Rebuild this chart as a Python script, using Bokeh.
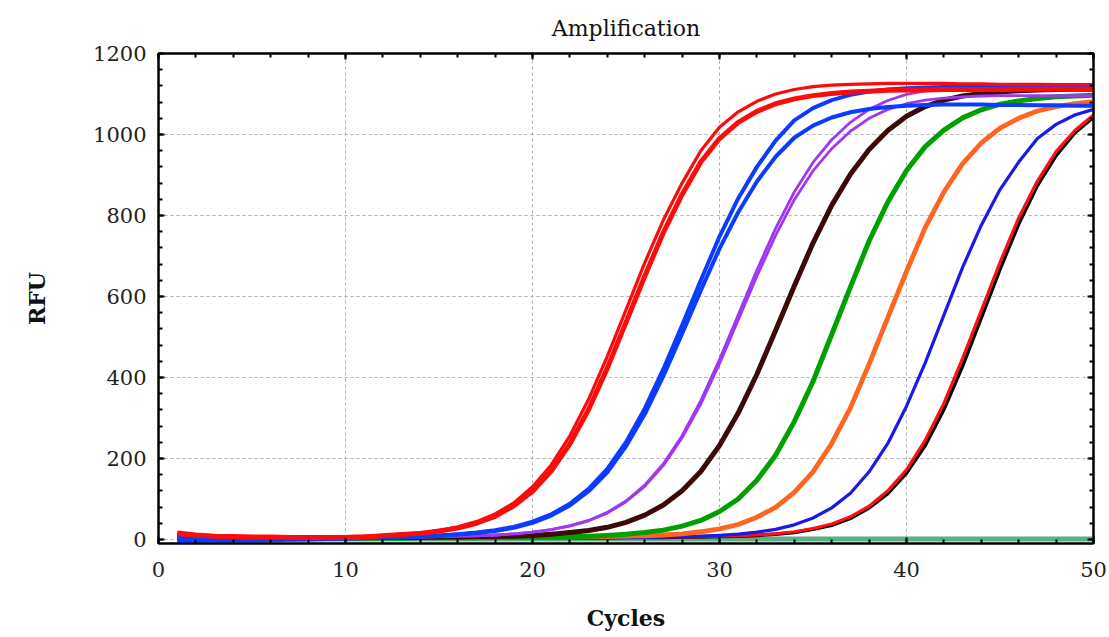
from bokeh.plotting import figure
from bokeh.models import LinearAxis, SingleIntervalTicker, Range1d, CustomJSTickFormatter
from bokeh.embed import file_html
from bokeh.resources import INLINE

# ---- data (RFU per cycle) ----
cycles = [1, 2, 3, 4, 5, 6, 7, 8, 9, 10, 11, 12, 13, 14, 15, 16, 17, 18, 19, 20,
          21, 22, 23, 24, 25, 26, 27, 28, 29, 30, 31, 32, 33, 34, 35, 36, 37, 38, 39, 40,
          41, 42, 43, 44, 45, 46, 47, 48, 49, 50]

red_a = [16, 11, 8, 7, 6, 6, 5, 5, 5, 5, 6, 9, 12, 15, 21, 28, 40, 57, 83, 119,
         169, 236, 321, 423, 536, 650, 758, 852, 932, 990, 1030, 1057, 1076, 1088, 1096, 1101, 1105, 1107, 1109, 1110,
         1110, 1111, 1111, 1111, 1111, 1112, 1112, 1112, 1112, 1112]
red_b = [12, 9, 7, 6, 6, 5, 5, 5, 6, 7, 8, 10, 13, 16, 22, 31, 44, 63, 90, 130,
         184, 256, 346, 452, 567, 683, 789, 880, 960, 1018, 1056, 1082, 1100, 1111, 1118, 1122, 1124, 1125, 1126, 1126,
         1126, 1126, 1125, 1125, 1124, 1124, 1124, 1123, 1123, 1123]
blue_a = [4, 4, 4, 4, 4, 4, 5, 5, 5, 5, 5, 6, 7, 8, 10, 13, 17, 23, 31, 44,
          62, 88, 125, 174, 240, 323, 421, 529, 640, 748, 842, 920, 985, 1035, 1065, 1085, 1098, 1106, 1111, 1114,
          1116, 1117, 1118, 1118, 1118, 1118, 1118, 1118, 1118, 1118]
blue_b = [-4, -4, -3, -3, -3, -2, -1, 0, 1, 2, 3, 4, 5, 7, 9, 12, 16, 21, 29, 41,
          59, 84, 119, 166, 230, 309, 404, 508, 615, 718, 808, 884, 945, 992, 1022, 1042, 1055, 1063, 1068, 1071,
          1073, 1074, 1074, 1074, 1073, 1073, 1072, 1072, 1071, 1071]
purple_a = [6, 6, 5, 5, 5, 5, 5, 5, 5, 5, 5, 5, 6, 6, 7, 8, 9, 11, 14, 18,
            24, 34, 47, 67, 95, 134, 187, 256, 343, 444, 554, 665, 768, 858, 931, 987, 1030, 1062, 1084, 1099,
            1108, 1114, 1118, 1120, 1121, 1122, 1122, 1122, 1122, 1122]
purple_b = [5, 5, 5, 5, 5, 5, 5, 5, 5, 5, 5, 5, 6, 6, 7, 8, 9, 11, 14, 18,
            24, 33, 46, 65, 93, 131, 183, 251, 335, 434, 542, 650, 751, 839, 910, 965, 1008, 1040, 1062, 1076,
            1085, 1090, 1093, 1095, 1096, 1096, 1096, 1096, 1096, 1096]
brown = [5, 5, 5, 5, 5, 5, 5, 5, 5, 5, 5, 5, 5, 5, 6, 6, 7, 7, 8, 10,
         13, 17, 22, 30, 42, 60, 85, 120, 168, 232, 312, 408, 516, 626, 732, 825, 902, 963, 1010, 1045,
         1069, 1085, 1095, 1101, 1105, 1108, 1110, 1111, 1112, 1112]
green = [3, 3, 3, 3, 3, 3, 3, 3, 3, 3, 3, 3, 3, 4, 4, 4, 4, 5, 5, 6,
         6, 7, 8, 10, 13, 17, 23, 33, 47, 69, 100, 146, 208, 291, 390, 506, 623, 737, 833, 911,
         970, 1011, 1041, 1061, 1075, 1083, 1089, 1093, 1095, 1097]
orange = [5, 5, 5, 5, 5, 5, 5, 5, 5, 5, 5, 5, 5, 5, 5, 5, 5, 5, 5, 6,
          6, 6, 7, 7, 8, 9, 11, 14, 19, 26, 37, 55, 79, 116, 167, 237, 325, 433, 548, 662,
          770, 858, 928, 979, 1016, 1040, 1058, 1069, 1076, 1081]
blue_c = [3, 3, 3, 3, 3, 3, 3, 3, 3, 3, 3, 3, 3, 3, 3, 3, 3, 3, 3, 3,
          3, 4, 4, 4, 5, 5, 6, 7, 8, 10, 13, 18, 25, 36, 53, 78, 114, 167, 237, 329,
          436, 554, 672, 776, 864, 932, 990, 1025, 1048, 1062]
red_c = [5, 5, 5, 5, 5, 5, 5, 5, 5, 5, 5, 5, 5, 5, 5, 5, 5, 5, 5, 5,
         5, 5, 5, 5, 5, 6, 6, 7, 7, 8, 9, 11, 14, 19, 27, 38, 56, 82, 120, 172,
         245, 336, 447, 565, 684, 794, 885, 958, 1010, 1048]
black = [4, 4, 4, 4, 4, 4, 4, 4, 4, 4, 4, 4, 4, 4, 4, 4, 4, 4, 4, 4,
         4, 4, 4, 4, 5, 5, 5, 6, 6, 7, 8, 10, 13, 17, 25, 35, 52, 78, 113, 164,
         232, 321, 428, 547, 667, 779, 874, 948, 1004, 1043]
ntc = [1, 1, 1, 1, 1, 1, 1, 1, 1, 1, 1, 1, 1, 1, 1, 1, 1, 1, 1, 1,
       1, 1, 1, 1, 1, 1, 1, 1, 1, 1, 1, 1, 1, 1, 1, 1, 1, 1, 1, 1,
       1, 1, 1, 1, 1, 1, 1, 1, 1, 1]

x_ticks_interval = 10
y_ticks_interval = 200

FONT = "DejaVu Serif"

p = figure(width=1108, height=637, x_range=Range1d(0, 50), y_range=Range1d(-10, 1200),
           output_backend="svg", toolbar_location=None,
           min_border_left=158, min_border_right=15, min_border_top=53, min_border_bottom=94,
           title="Amplification", background_fill_color="white", border_fill_color="white")

p.title.align = "center"
p.title.text_font = FONT
p.title.text_font_size = "22px"
p.title.text_font_style = "normal"
p.title.text_color = "#111111"
p.title.standoff = 25

p.outline_line_color = "black"
p.outline_line_width = 2
p.outline_line_alpha = 1

p.xaxis.ticker = SingleIntervalTicker(interval=x_ticks_interval, num_minor_ticks=5)
p.yaxis.ticker = SingleIntervalTicker(interval=y_ticks_interval, num_minor_ticks=5)

for ax in (p.xaxis, p.yaxis):
    ax.axis_line_color = "black"
    ax.axis_line_width = 2
    ax.major_tick_in = 6
    ax.major_tick_out = 0
    ax.minor_tick_in = 4
    ax.minor_tick_out = 0
    ax.major_tick_line_color = "black"
    ax.minor_tick_line_color = "black"
    ax.major_tick_line_width = 2
    ax.minor_tick_line_width = 2
    ax.major_label_text_font = FONT
    ax.major_label_text_font_size = "21px"
    ax.major_label_text_color = "#222222"
    ax.axis_label_text_font = FONT
    ax.axis_label_text_font_size = "22px"
    ax.axis_label_text_font_style = "bold"
    ax.axis_label_text_color = "#111111"

p.xaxis.axis_label = "Cycles"
p.yaxis.axis_label = "RFU"
p.xaxis.major_label_standoff = 18
p.yaxis.major_label_standoff = 12
p.xaxis.axis_label_standoff = 25
p.yaxis.axis_label_standoff = 40

blank = CustomJSTickFormatter(code="return '';")
top_ax = LinearAxis(ticker=SingleIntervalTicker(interval=x_ticks_interval, num_minor_ticks=5),
                    formatter=blank)
right_ax = LinearAxis(ticker=SingleIntervalTicker(interval=y_ticks_interval, num_minor_ticks=5),
                      formatter=blank)
for ax in (top_ax, right_ax):
    ax.axis_line_color = "black"
    ax.axis_line_width = 2
    ax.major_tick_in = 6
    ax.major_tick_out = 0
    ax.minor_tick_in = 4
    ax.minor_tick_out = 0
    ax.major_tick_line_width = 2
    ax.minor_tick_line_width = 2
    ax.major_label_standoff = 0
p.add_layout(top_ax, "above")
p.add_layout(right_ax, "right")

p.grid.grid_line_color = "#9a9a9a"
p.grid.grid_line_dash = "3 3"
p.grid.grid_line_width = 1
p.grid.grid_line_alpha = 0.8

series = [
    (ntc, "#5cae86", 5),
    (black, "#000000", 3.5),
    (red_c, "#ff1010", 3.2),
    (blue_c, "#1a1ae8", 3.2),
    (orange, "#ff6420", 4.8),
    (green, "#00a000", 5),
    (brown, "#3c0808", 5),
    (purple_b, "#a038f0", 2.8),
    (purple_a, "#a038f0", 2.8),
    (blue_b, "#0a3cff", 4),
    (blue_a, "#0a3cff", 4),
    (red_a, "#ff0a0a", 5),
    (red_b, "#ff0a0a", 3.2),
]
for ys, col, w in series:
    p.line(cycles, ys, line_color=col, line_width=w, line_join="round")

open("out.html", "w").write(file_html(p, INLINE))
